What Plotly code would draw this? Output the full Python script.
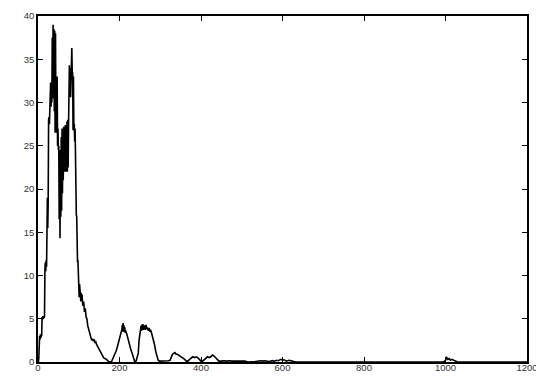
import plotly.graph_objects as go

# Spectrum values (x positions and heights)
x_dense = list(range(0, 101))
y_dense = [0, 0, 0.5, 2.5, 3.0, 2.6, 3.2, 2.8, 3.1, 3.0,
           5.2, 4.9, 5.3, 5.0, 5.2, 5.1, 5.3, 10.8, 11.5, 10.5,
           11.8, 11.0, 15.0, 19.0, 15.5, 18.5, 28.0, 28.3, 27.5, 28.6,
           30.0, 32.3, 29.5, 32.0, 30.0, 37.5, 31.0, 39.0, 30.5, 38.5,
           29.0, 38.3, 26.5, 38.0, 27.0, 33.0, 26.5, 33.0, 25.0, 27.0,
           24.5, 25.0, 16.5, 24.0, 14.3, 24.5, 16.8, 26.0, 17.5, 27.0,
           19.5, 26.5, 21.0, 27.2, 22.0, 27.0, 22.5, 27.4, 22.0, 27.0,
           22.5, 27.8, 22.0, 28.0, 22.5, 27.5, 30.6, 34.3, 31.0, 34.0,
           30.6, 34.5, 33.0, 36.3, 33.4, 33.5, 26.8, 33.0, 27.0, 27.5,
           25.5, 27.0, 24.0, 17.5, 17.0, 16.8, 12.0, 11.5, 11.8, 10.0,
           8.5]

x_tail = [101, 102, 103, 104, 105, 106, 107, 108, 110, 112, 114, 116, 118, 120,
          122, 124, 126, 128, 130, 132, 134, 136, 138, 140, 142, 144, 146, 148,
          150, 152, 155, 158, 161, 164, 168, 172, 176, 180, 183, 186, 189, 192,
          195, 198, 201, 204, 206, 207, 208, 209, 210, 211, 212, 213, 214, 216,
          218, 220, 222, 225, 228, 231, 234, 237, 240, 243, 246, 248, 250, 252,
          253, 254, 255, 256, 257, 258, 259, 260, 262, 263, 265, 267, 269, 271,
          273, 275, 277, 279, 281, 283, 286, 289, 292, 295, 298, 305, 310, 315,
          320, 324, 327, 330, 333, 336, 339, 342, 345, 348, 351, 354, 357, 360,
          364, 368, 372, 376, 380, 384, 388, 392, 396, 400, 404, 408, 412, 416,
          420, 424, 428, 432, 436, 440, 444, 450, 456, 462, 470, 476, 482, 490,
          496, 502, 508, 515, 525, 535, 545, 550, 556, 562, 568, 575, 580, 586,
          590, 596, 600, 604, 610, 616, 622, 628, 635, 700, 800, 900, 995, 1000,
          1003, 1006, 1009, 1012, 1016, 1020, 1025, 1030, 1100, 1200]
y_tail = [7.5, 9.0, 7.6, 8.2, 7.0, 8.0, 7.2, 7.8, 6.5, 7.0, 5.8, 6.2, 5.2, 5.0,
          4.2, 3.8, 3.4, 2.9, 2.8, 2.5, 2.7, 2.4, 2.6, 2.2, 2.3, 2.0, 1.8, 1.6,
          1.4, 1.3, 1.0, 0.7, 0.5, 0.4, 0.3, 0.1, 0, 0, 0.3, 0.6, 0.9, 1.3,
          1.8, 2.3, 3.0, 3.6, 3.8, 4.3, 3.5, 4.5, 3.6, 4.2, 3.5, 4.0, 3.4, 3.5,
          3.2, 2.8, 2.5, 1.8, 1.4, 1.0, 0.5, 0.1, 0, 0.4, 1.0, 2.5, 3.5, 3.7,
          4.2, 3.6, 4.3, 3.8, 4.4, 3.7, 4.3, 3.8, 4.2, 3.7, 4.3, 3.8, 4.0, 3.6,
          3.9, 3.5, 3.6, 3.3, 3.0, 2.6, 2.0, 1.2, 0.6, 0.2, 0.1, 0.1, 0.15, 0.1,
          0.15, 0.2, 0.6, 0.9, 1.0, 1.1, 0.9, 0.9, 0.8, 0.7, 0.7, 0.6, 0.4, 0.3,
          0.1, 0.1, 0.3, 0.5, 0.6, 0.5, 0.6, 0.5, 0.3, 0.1, 0.1, 0.3, 0.5, 0.6,
          0.5, 0.6, 0.8, 0.7, 0.5, 0.3, 0.1, 0.1, 0.15, 0.1, 0.15, 0.1, 0.1, 0.15,
          0.1, 0.15, 0.1, 0, 0, 0.05, 0.15, 0.1, 0.15, 0.1, 0.05, 0.15, 0.1, 0.2,
          0.15, 0.3, 0.2, 0.25, 0.1, 0.2, 0.1, 0.05, 0, 0, 0, 0, 0, 0.2,
          0.5, 0.3, 0.4, 0.2, 0.3, 0.2, 0.1, 0, 0, 0]

x_vals = x_dense + x_tail
y_vals = y_dense + y_tail

x_ticks = [0, 200, 400, 600, 800, 1000, 1200]
y_ticks = [0, 5, 10, 15, 20, 25, 30, 35, 40]

fig = go.Figure()
fig.add_trace(go.Scatter(x=x_vals, y=y_vals, mode="lines",
                         line=dict(color="black", width=1.6),
                         showlegend=False, hoverinfo="skip"))

axis_common = dict(showgrid=False, zeroline=False, showline=True,
                   linecolor="black", linewidth=1.5, mirror="ticks",
                   ticks="inside", ticklen=5, tickwidth=1.2, tickcolor="black",
                   tickfont=dict(family="Liberation Sans, Arial, sans-serif",
                                 size=9.5, color="#333333"),
                   automargin=False)

# page body has an 8px margin; the figure is shifted/sized so the plot
# area lands where the reference has it
fig.update_layout(
    width=536, height=368,
    margin=dict(l=30, r=17, t=8, b=14),
    paper_bgcolor="white", plot_bgcolor="white",
    xaxis=dict(range=[0, 1200], tickvals=x_ticks, ticklabelstandoff=-4,
               ticktext=[str(v) for v in x_ticks], **axis_common),
    yaxis=dict(range=[0, 40], tickvals=y_ticks,
               ticktext=[str(v) for v in y_ticks], **axis_common),
)

fig.write_html("out.html")
